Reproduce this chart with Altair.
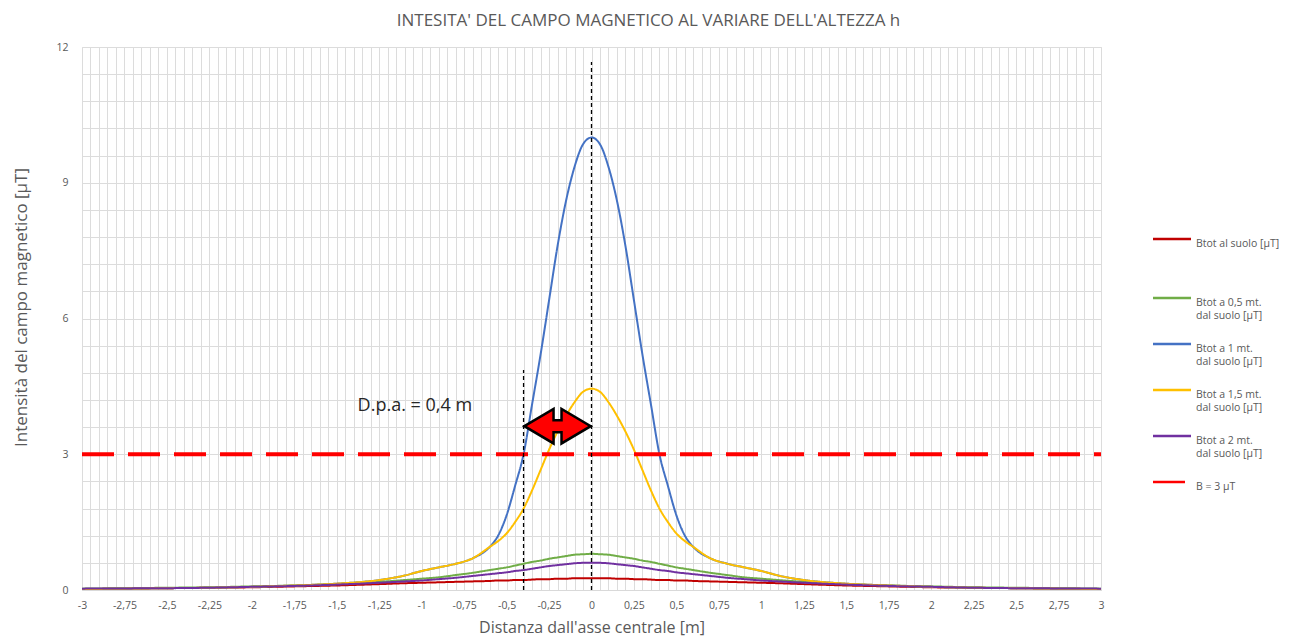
import altair as alt
import pandas as pd

# ---------------- data ----------------
x_m = [-3, -2.75, -2.5, -2.25, -2, -1.75, -1.5, -1.25, -1.1, -1, -0.9, -0.8, -0.7, -0.6,
       -0.55, -0.5, -0.45, -0.4, -0.35, -0.3, -0.25, -0.2, -0.15, -0.1, -0.05, 0,
       0.05, 0.1, 0.15, 0.2, 0.25, 0.3, 0.35, 0.4, 0.45, 0.5, 0.55,
       0.6, 0.7, 0.8, 0.9, 1, 1.1, 1.25, 1.5, 1.75, 2, 2.25, 2.5, 2.75, 3]

b_suolo = [0.02, 0.03, 0.04, 0.05, 0.06, 0.08, 0.10, 0.13, 0.15, 0.16, 0.17, 0.18, 0.19, 0.20,
           0.21, 0.21, 0.22, 0.22, 0.23, 0.24, 0.24, 0.25, 0.25, 0.26, 0.26, 0.26,
           0.26, 0.26, 0.25, 0.25, 0.24, 0.24, 0.23, 0.22, 0.22, 0.21, 0.21,
           0.20, 0.19, 0.18, 0.17, 0.16, 0.15, 0.13, 0.10, 0.08, 0.06, 0.05, 0.04, 0.03, 0.02]

b_05 = [0.03, 0.04, 0.05, 0.06, 0.08, 0.10, 0.13, 0.18, 0.22, 0.25, 0.28, 0.33, 0.38, 0.44,
        0.47, 0.50, 0.54, 0.58, 0.62, 0.65, 0.69, 0.72, 0.75, 0.78, 0.79, 0.80,
        0.79, 0.78, 0.75, 0.72, 0.69, 0.65, 0.62, 0.58, 0.54, 0.50, 0.47,
        0.44, 0.38, 0.33, 0.28, 0.25, 0.22, 0.18, 0.13, 0.10, 0.08, 0.06, 0.05, 0.04, 0.03]

b_1 = [0.02, 0.03, 0.04, 0.05, 0.07, 0.10, 0.14, 0.22, 0.32, 0.42, 0.50, 0.58, 0.70, 0.95,
       1.20, 1.65, 2.30, 3.00, 4.10, 5.20, 6.40, 7.60, 8.60, 9.35, 9.85, 10.00,
       9.85, 9.35, 8.60, 7.60, 6.40, 5.20, 4.10, 3.00, 2.30, 1.65, 1.20,
       0.95, 0.70, 0.58, 0.50, 0.42, 0.32, 0.22, 0.14, 0.10, 0.07, 0.05, 0.04, 0.03, 0.02]

b_15 = [0.02, 0.03, 0.04, 0.05, 0.07, 0.10, 0.14, 0.22, 0.32, 0.42, 0.50, 0.58, 0.70, 0.95,
        1.08, 1.25, 1.50, 1.80, 2.20, 2.65, 3.10, 3.50, 3.85, 4.15, 4.38, 4.45,
        4.38, 4.15, 3.85, 3.50, 3.10, 2.65, 2.20, 1.80, 1.50, 1.25, 1.08,
        0.95, 0.70, 0.58, 0.50, 0.42, 0.32, 0.22, 0.14, 0.10, 0.07, 0.05, 0.04, 0.03, 0.02]

b_2 = [0.03, 0.035, 0.04, 0.05, 0.07, 0.09, 0.12, 0.16, 0.19, 0.21, 0.24, 0.27, 0.31, 0.35,
       0.37, 0.39, 0.42, 0.44, 0.47, 0.50, 0.53, 0.55, 0.57, 0.59, 0.60, 0.60,
       0.60, 0.59, 0.57, 0.55, 0.53, 0.50, 0.47, 0.44, 0.42, 0.39, 0.37,
       0.35, 0.31, 0.27, 0.24, 0.21, 0.19, 0.16, 0.12, 0.09, 0.07, 0.05, 0.04, 0.035, 0.03]

limite_x = [-3, 3]
limite_y = [3, 3]

serie = ["Btot al suolo [µT]| | ",
         "Btot a 0,5 mt.|dal suolo [µT]",
         "Btot a 1 mt.|dal suolo [µT]",
         "Btot a 1,5 mt.|dal suolo [µT]",
         "Btot a 2 mt.|dal suolo [µT]",
         "B = 3 µT"]
colori = ["#C00000", "#70AD47", "#4472C4", "#FFC000", "#7030A0", "#FF0000"]
spessori = [2, 2, 2, 2, 2, 4]
tratteggi = [[1, 0], [1, 0], [1, 0], [1, 0], [1, 0], [32, 14]]

guide_x = [0, -0.4]
guide_top = [11.67, 4.86]

freccia_x = [-0.2]
freccia_y = [3.62]

nota_x = [-1.04]
nota_y = [4.07]
nota_testo = ["D.p.a. = 0,4 m"]

# ---------------- tables ----------------
rows = []
for name, vals, w in zip(serie[:5], [b_suolo, b_05, b_1, b_15, b_2], spessori[:5]):
    for xv, yv in zip(x_m, vals):
        rows.append({"x": xv, "y": yv, "serie": name, "w": w})
for xv, yv in zip(limite_x, limite_y):
    rows.append({"x": xv, "y": yv, "serie": serie[5], "w": spessori[5]})
df = pd.DataFrame(rows)

df_guide = pd.DataFrame({"x": guide_x, "y": [0, 0], "y1": guide_top})
df_arrow = pd.DataFrame({"x": freccia_x, "y": freccia_y})
df_note = pd.DataFrame({"x": nota_x, "y": nota_y, "t": nota_testo})

FONT = "Open Sans"
GREY = "#595959"

x_ticks = [round(-3 + 0.05 * i, 2) for i in range(121)]
y_ticks = [round(0.6 * i, 1) for i in range(21)]

xscale = alt.Scale(domain=[-3, 3], nice=False, zero=False)
yscale = alt.Scale(domain=[0, 12], nice=False)

x_axis = alt.Axis(
    values=x_ticks, ticks=False, grid=True, gridColor="#dcdcdc", gridWidth=1,
    domainColor="#d9d9d9", labelColor=GREY, labelFont=FONT, labelFontSize=10.5,
    labelOverlap=False, labelFlush=False, labelPadding=10,
    labelExpr="(abs(round(datum.value*100)) % 25 == 0) ? replace(datum.value + '', '.', ',') : ''",
    title="Distanza dall'asse centrale [m]", titleColor=GREY, titleFont=FONT,
    titleFontSize=16, titleFontWeight="normal", titlePadding=9,
)
y_axis = alt.Axis(
    values=y_ticks, ticks=False, grid=True, gridColor="#dcdcdc", gridWidth=1,
    domain=False, labelColor=GREY, labelFont=FONT, labelFontSize=10.5, labelPadding=14,
    labelOverlap=False,
    labelExpr="(round(datum.value*10) % 30 == 0) ? datum.value : ''",
    title="Intensità del campo magnetico [µT]", titleColor=GREY, titleFont=FONT,
    titleFontSize=17, titleFontWeight="normal", titlePadding=25, titleY=260,
)

X = alt.X("x:Q", scale=xscale, axis=x_axis)
Y = alt.Y("y:Q", scale=yscale, axis=y_axis)

legend_symbol = "M -2 0 L 2 0"

lines = alt.Chart(df).mark_line(interpolate="monotone").encode(
    x=X, y=Y,
    color=alt.Color("serie:N", scale=alt.Scale(domain=serie, range=colori),
                    legend=alt.Legend(
                        title=None, orient="none", legendX=1079, legendY=181,
                        symbolType=legend_symbol, symbolSize=361, symbolStrokeWidth=2.5,
                        labelFont=FONT, labelFontSize=10.5, labelColor=GREY,
                        labelExpr="split(datum.label, '|')", labelBaseline="top",
                        labelOffset=13, rowPadding=12, labelLimit=200)),
    strokeWidth=alt.StrokeWidth("w:Q", scale=None, legend=None),
    strokeDash=alt.StrokeDash("serie:N", scale=alt.Scale(domain=serie, range=tratteggi), legend=None),
    order=alt.Order("x:Q"),
)

guides = alt.Chart(df_guide).mark_rule(color="#000000", strokeWidth=1.3, strokeDash=[4, 3]).encode(
    x=X, y=Y, y2=alt.Y2("y1:Q")
)

arrow_path = ("M -1 0 L -0.12 -0.52 L -0.12 -0.18 L 0.12 -0.18 L 0.12 -0.52 L 1 0 "
              "L 0.12 0.52 L 0.12 0.18 L -0.12 0.18 L -0.12 0.52 Z")
arrow = alt.Chart(df_arrow).mark_point(
    shape=arrow_path, size=4400, filled=True, fill="#FF0000", stroke="#000000",
    strokeWidth=2.5, opacity=1
).encode(x=X, y=Y)

note = alt.Chart(df_note).mark_text(font=FONT, fontSize=18, color="#262626").encode(
    x=X, y=Y, text="t:N"
)

chart = alt.layer(lines, guides, arrow, note).properties(
    width=1019, height=543,
    title=alt.TitleParams("INTESITA' DEL CAMPO MAGNETICO AL VARIARE DELL'ALTEZZA h",
                          font=FONT, fontSize=17, fontWeight="normal", color=GREY,
                          anchor="middle", dx=57, offset=12),
    autosize=alt.AutoSizeParams(type="none"),
    padding={"left": 74, "top": 39, "right": 186, "bottom": 50},
).configure_view(stroke=None).configure(background="white")

chart.save("out.html", embed_options={"renderer": "svg", "actions": False})
